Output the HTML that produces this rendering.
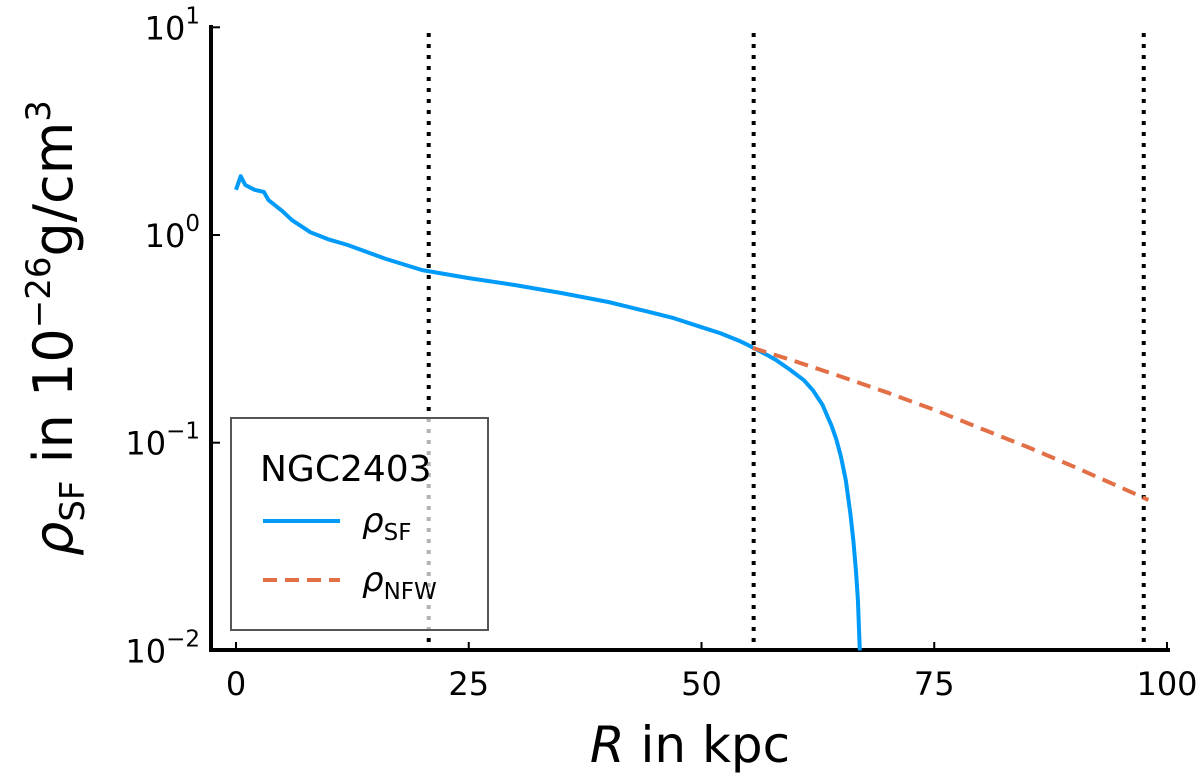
<!DOCTYPE html>
<html><head><meta charset="utf-8"><style>
body{margin:0;background:#fff;}
svg{font-family:"DejaVu Sans","Liberation Sans",sans-serif;}
</style></head><body>
<svg id="chart" width="1200" height="778" viewBox="0 0 1200 778">
<g id="plot"></g>
</svg>
<script>
const sfR=[0,0.5,1,2,3,3.5,5,6,8,10,12,16,20,25,30,35,40,44,47,50,52,54,55,57,58,59.5,61,62,63,64,64.5,65,65.5,66,66.3,66.6,66.8,67];
const sfRho=[1.65,1.92,1.74,1.65,1.61,1.47,1.3,1.18,1.03,0.95,0.895,0.77,0.678,0.62,0.574,0.525,0.476,0.43,0.398,0.36,0.337,0.31,0.295,0.265,0.25,0.225,0.2,0.178,0.152,0.12,0.103,0.085,0.066,0.045,0.034,0.024,0.0175,0.01];
const nfwR=[55.5,60,65,70,75,80,85,90,95,98];
const nfwRho=[0.286,0.247,0.208,0.174,0.144,0.117,0.0955,0.0766,0.061,0.053];
const vlines=[20.7,55.6,97.5];
const xTicks=[0,25,50,75,100];
const yTicks=[-2,-1,0,1];
const NS="http://www.w3.org/2000/svg";
const X=r=>236+r*9.31;
const Y=v=>235-Math.log10(v)*207.7;
const g=document.getElementById('plot');
function mk(t,a,p){const e=document.createElementNS(NS,t);for(const k in a)e.setAttribute(k,a[k]);(p||g).appendChild(e);return e;}
let e=mk('line',{x1:211,y1:650,x2:1170,y2:650,stroke:'#000','stroke-width':4});

e=mk('line',{x1:211,y1:25,x2:211,y2:652,stroke:'#000','stroke-width':4});

xTicks.forEach(t=>{
 mk('line',{x1:X(t),y1:650,x2:X(t),y2:642,stroke:'#000','stroke-width':2});
 const tx=mk('text',{x:X(t),y:695,'font-size':32,'text-anchor':'middle'});tx.textContent=t;
 
});
yTicks.forEach(t=>{
 const y=Y(Math.pow(10,t));
 mk('line',{x1:211,y1:y,x2:220,y2:y,stroke:'#000','stroke-width':2});
 const tx=mk('text',{x:200,y:y+12,'font-size':32,'text-anchor':'end'});
 tx.innerHTML='10<tspan dy="-16" font-size="23">'+(t<0?'\u2212'+(-t):t)+'</tspan>';
 
});
vlines.forEach(r=>{
 const l=mk('line',{x1:X(r),y1:33,x2:X(r),y2:650,stroke:'#000','stroke-width':4,'stroke-dasharray':'4 7'});
 
});
function path(xs,ys,attrs,name){
 const d=xs.map((r,i)=>(i?'L':'M')+X(r).toFixed(1)+','+Y(ys[i]).toFixed(1)).join(' ');
 const p=mk('path',Object.assign({d,fill:'none'},attrs));
 
}
path(sfR,sfRho,{stroke:'#009af9','stroke-width':4,'stroke-linejoin':'round'},'rho-sf-line');
path(nfwR,nfwRho,{stroke:'#e26f46','stroke-width':4,'stroke-dasharray':'14 8'},'rho-nfw-line');
const lg=mk('g',{});
mk('rect',{x:231,y:418,width:257,height:212,fill:'rgba(255,255,255,0.7)',stroke:'#555','stroke-width':2},lg);
let t=mk('text',{x:260,y:481,'font-size':36},lg);t.textContent='NGC2403';

mk('line',{x1:263,y1:521,x2:340,y2:521,stroke:'#009af9','stroke-width':4},lg);
t=mk('text',{x:362,y:532,'font-size':34,'font-style':'italic'},lg);t.innerHTML='ρ<tspan dy="8" font-size="23" font-style="normal">SF</tspan>';

mk('line',{x1:263,y1:580,x2:340,y2:580,stroke:'#e26f46','stroke-width':4,'stroke-dasharray':'14 8'},lg);
t=mk('text',{x:362,y:591,'font-size':34,'font-style':'italic'},lg);t.innerHTML='ρ<tspan dy="8" font-size="23" font-style="normal">NFW</tspan>';

t=mk('text',{x:690,y:762,'font-size':50,'text-anchor':'middle'});
t.innerHTML='<tspan font-style="italic">R</tspan> in kpc';

t=mk('text',{x:0,y:0,'font-size':54,'text-anchor':'middle',transform:'translate(72,328) rotate(-90)'});
t.innerHTML='<tspan font-style="italic">ρ</tspan><tspan dy="12" font-size="34">SF</tspan><tspan dy="-12"> in 10</tspan><tspan dy="-22" font-size="34">−26</tspan><tspan dy="22">g/cm</tspan><tspan dy="-22" font-size="34">3</tspan>';

</script>
</body></html>
